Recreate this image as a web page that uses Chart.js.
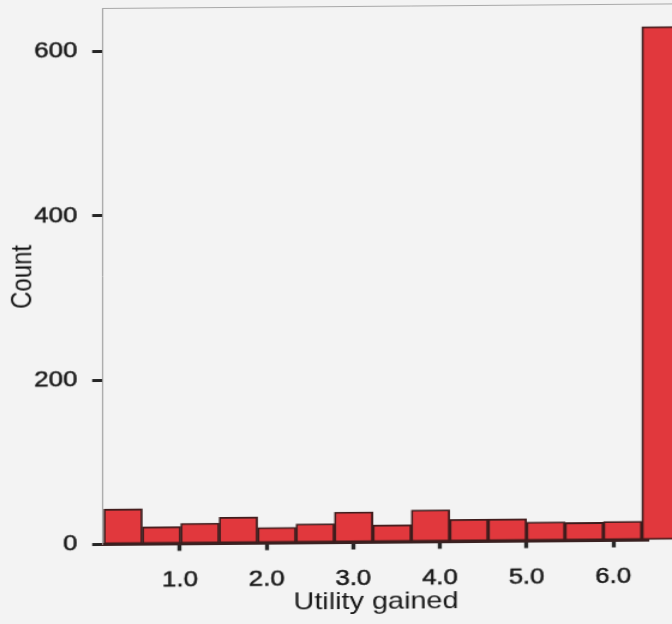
<!DOCTYPE html>
<html>
<head>
<meta charset="utf-8">
<script src="https://cdn.jsdelivr.net/npm/chart.js@4.4.0/dist/chart.umd.min.js"></script>
<style>
  html, body { margin: 0; padding: 0; width: 672px; height: 624px; overflow: hidden; background: #f3f3f3; }
  #wrap {
    position: absolute; left: 0; top: 0; width: 600px; height: 624px;
    transform-origin: 0 0;
    transform: translateY(0.8px) scaleX(1.2) skewY(-0.55deg);
  }
  canvas { display: block; }
</style>
</head>
<body>
<div id="wrap"><canvas id="chart" width="600" height="624"></canvas></div>
<script>
// Histogram bins: centre of each bin on the "Utility gained" axis
const binCenters = [0.3437, 0.7871, 1.2305, 1.6739, 2.1173, 2.5607, 3.0041, 3.4475,
                    3.8909, 4.3343, 4.7777, 5.2211, 5.6645, 6.1079, 6.5513];
// Number of simulations falling in each bin
const counts = [43, 21, 25, 32, 19, 23, 37, 21, 39, 27, 27, 23, 22, 23, 625];
// Axis tick values
const xTickValues = [1, 2, 3, 4, 5, 6];
const yTickValues = [0, 200, 400, 600];

const FONT = "'Liberation Sans', Arial, Helvetica, sans-serif";
const TEXT = '#171717';
const INK = '#262626';

// Thin frame line along the top of the plot, running on past the last bin
const frameTop = {
  id: 'frameTop',
  beforeDatasetsDraw(chart) {
    const { ctx, chartArea } = chart;
    ctx.save();
    ctx.strokeStyle = '#a8a8a8';
    ctx.lineWidth = 1;
    ctx.beginPath();
    ctx.moveTo(chartArea.left, chartArea.top + 0.5);
    ctx.lineTo(chart.width, chartArea.top + 0.5);
    ctx.stroke();
    ctx.restore();
  }
};

new Chart(document.getElementById('chart'), {
  type: 'bar',
  data: {
    datasets: [{
      label: 'Count',
      data: binCenters.map((x, i) => ({ x: x, y: counts[i] })),
      backgroundColor: '#e1383d',
      borderColor: '#3d1c1c',
      borderWidth: 1.8,
      borderSkipped: false,
      barPercentage: 1,
      categoryPercentage: 1,
      clip: false
    }]
  },
  options: {
    responsive: false,
    animation: false,
    devicePixelRatio: 1,
    layout: { padding: { top: 8, left: 0, right: 59.2, bottom: 0 } },
    plugins: { legend: { display: false }, tooltip: { enabled: false } },
    scales: {
      x: {
        type: 'linear',
        min: 0.112,
        max: 6.412,
        offset: false,
        afterBuildTicks: s => { s.ticks = xTickValues.map(v => ({ value: v })); },
        ticks: {
          autoSkip: false, maxRotation: 0, padding: 16.4, color: TEXT,
          textStrokeColor: TEXT, textStrokeWidth: 0.5,
          font: { family: FONT, size: 21.5 },
          callback: v => Number(v).toFixed(1)
        },
        grid: { drawOnChartArea: false, drawTicks: true, tickLength: 7, tickWidth: 3.3, tickColor: INK, offset: false },
        border: { display: true, color: '#3a2222', width: 3 },
        title: {
          display: true, text: 'Utility gained', color: TEXT,
          font: { family: FONT, size: 24 }, padding: { top: 0, bottom: 5.7 }
        },
        afterFit: s => { s.height = 79.5; s.paddingLeft = 0; s.paddingRight = 0; }
      },
      y: {
        min: 0,
        max: 653,
        afterBuildTicks: s => { s.ticks = yTickValues.map(v => ({ value: v })); },
        ticks: {
          padding: 12.4, color: TEXT,
          textStrokeColor: TEXT, textStrokeWidth: 0.5,
          font: { family: FONT, size: 21.5 }
        },
        grid: { drawOnChartArea: false, drawTicks: true, tickLength: 9, tickWidth: 3, tickColor: INK },
        border: { display: true, color: '#9a9a9a', width: 0.9 },
        title: {
          display: true, text: 'Count', color: TEXT,
          font: { family: FONT, size: 24 }, padding: { top: 4.85, bottom: 0 }
        },
        afterFit: s => { s.width = 85.8; s.paddingTop = 0; s.paddingBottom = 0; }
      }
    }
  },
  plugins: [frameTop]
});
</script>
</body>
</html>
